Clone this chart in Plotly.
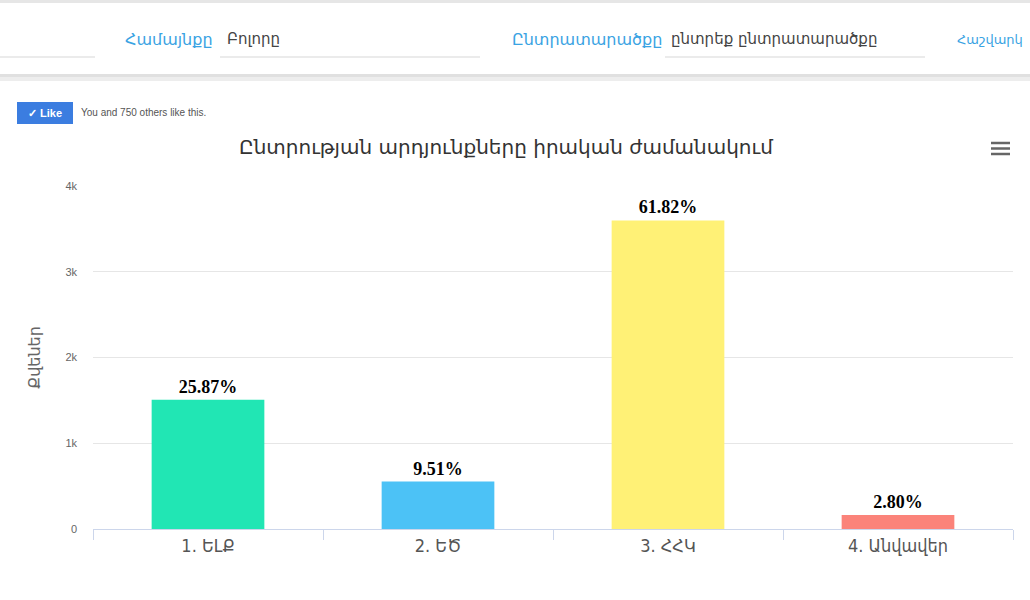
import plotly.graph_objects as go

categories = ["1. ԵԼՔ", "2. ԵԾ", "3. ՀՀԿ", "4. Անվավեր"]
votes = [1506, 553, 3598, 163]
percent_labels = ["25.87%", "9.51%", "61.82%", "2.80%"]
bar_colors = ["#21e6b4", "#4cc2f6", "#fff176", "#fb837a"]
y_tickvals = [0, 1000, 2000, 3000, 4000]
y_ticktext = ["0", "1k", "2k", "3k", "4k"]

title_text = "Ընտրության արդյունքները իրական ժամանակում"
y_title = "Քվեներ"

W, H = 1030, 600
L, R, T, B = 93, 17, 186, 71
PW = W - L - R
PH = H - T - B


def px(x):
    return (x - L) / PW


def py(y):
    return (H - B - y) / PH


ARM = "DejaVu Sans Condensed, DejaVu Sans, sans-serif"
ARMW = "DejaVu Sans, sans-serif"

fig = go.Figure()
fig.add_trace(go.Bar(
    x=categories,
    y=votes,
    marker=dict(color=bar_colors, line=dict(width=0)),
    width=0.49,
    text=percent_labels,
    textposition="outside",
    textfont=dict(family="Liberation Serif, Times New Roman, serif", size=18, color="#000000", weight="bold"),
    cliponaxis=False,
    hoverinfo="x+y",
))

shapes = []
annotations = []

# header strip
shapes.append(dict(type="rect", xref="paper", yref="paper", x0=px(0), x1=px(W), y0=py(0), y1=py(3),
                   fillcolor="#e6e6e6", line=dict(width=0), layer="above"))
shapes.append(dict(type="rect", xref="paper", yref="paper", x0=px(0), x1=px(W), y0=py(74), y1=py(77),
                   fillcolor="#e0e0e0", line=dict(width=0), layer="above"))
shapes.append(dict(type="rect", xref="paper", yref="paper", x0=px(0), x1=px(W), y0=py(77), y1=py(81),
                   fillcolor="#ededed", line=dict(width=0), layer="above"))
for x0, x1 in [(0, 95), (220, 480), (665, 925)]:
    shapes.append(dict(type="line", xref="paper", yref="paper", x0=px(x0), x1=px(x1), y0=py(57), y1=py(57),
                       line=dict(color="#e4e4e4", width=1.5)))

header_items = [
    (123, "Համայնքը", "#3aa3e3", 16),
    (225, "Բոլորը", "#444444", 15),
    (510, "Ընտրատարածքը", "#3aa3e3", 16),
    (669, "ընտրեք ընտրատարածքը", "#444444", 15),
    (955, "Հաշվարկ", "#3aa3e3", 13),
]
for x, t, c, s in header_items:
    annotations.append(dict(xref="paper", yref="paper", x=px(x), y=py(39), text=t, showarrow=False,
                            xanchor="left", yanchor="middle",
                            font=dict(family=ARMW, size=s, color=c)))

# like button
shapes.append(dict(type="rect", xref="paper", yref="paper", x0=px(17), x1=px(73), y0=py(102), y1=py(124),
                   fillcolor="#3b7de0", line=dict(width=0)))
annotations.append(dict(xref="paper", yref="paper", x=px(45), y=py(113), text="<b>✓ Like</b>", showarrow=False,
                        xanchor="center", yanchor="middle",
                        font=dict(family="Liberation Sans, Arial, sans-serif", size=11, color="#ffffff")))
annotations.append(dict(xref="paper", yref="paper", x=px(79), y=py(113), text="You and 750 others like this.",
                        showarrow=False, xanchor="left", yanchor="middle",
                        font=dict(family="Liberation Sans, Arial, sans-serif", size=10, color="#555555")))

# title
annotations.append(dict(xref="paper", yref="paper", x=px(506), y=py(147), text=title_text, showarrow=False,
                        xanchor="center", yanchor="middle",
                        font=dict(family=ARMW, size=20, color="#333333")))

# hamburger menu
for yy in [143, 148.5, 154]:
    shapes.append(dict(type="line", xref="paper", yref="paper", x0=px(991), x1=px(1010), y0=py(yy), y1=py(yy),
                       line=dict(color="#666666", width=2.5)))

fig.update_layout(
    width=W, height=H,
    margin=dict(l=L, r=R, t=T, b=B, pad=0),
    paper_bgcolor="#ffffff",
    plot_bgcolor="#ffffff",
    showlegend=False,
    bargap=0.51,
    shapes=shapes,
    annotations=annotations,
    xaxis=dict(
        type="category",
        tickson="boundaries",
        ticks="outside",
        ticklen=10,
        tickcolor="#ccd6eb",
        tickwidth=1,
        showline=True,
        linecolor="#ccd6eb",
        linewidth=1,
        showgrid=False,
        tickfont=dict(family=ARM, size=18, color="#555555"),
        fixedrange=True,
    ),
    yaxis=dict(
        range=[0, 4000],
        tickvals=y_tickvals,
        ticktext=y_ticktext,
        showgrid=True,
        gridcolor="#e6e6e6",
        gridwidth=1,
        zeroline=False,
        showline=False,
        ticks="",
        ticklabelstandoff=15,
        tickfont=dict(family="Liberation Sans, Arial, sans-serif", size=11, color="#666666"),
        title=dict(text=y_title, font=dict(family=ARMW, size=16, color="#666666"), standoff=20),
        fixedrange=True,
    ),
)

fig.write_html("out.html", config={"displayModeBar": False},
               post_script="document.body.style.margin='0';document.body.style.overflow='hidden';")
